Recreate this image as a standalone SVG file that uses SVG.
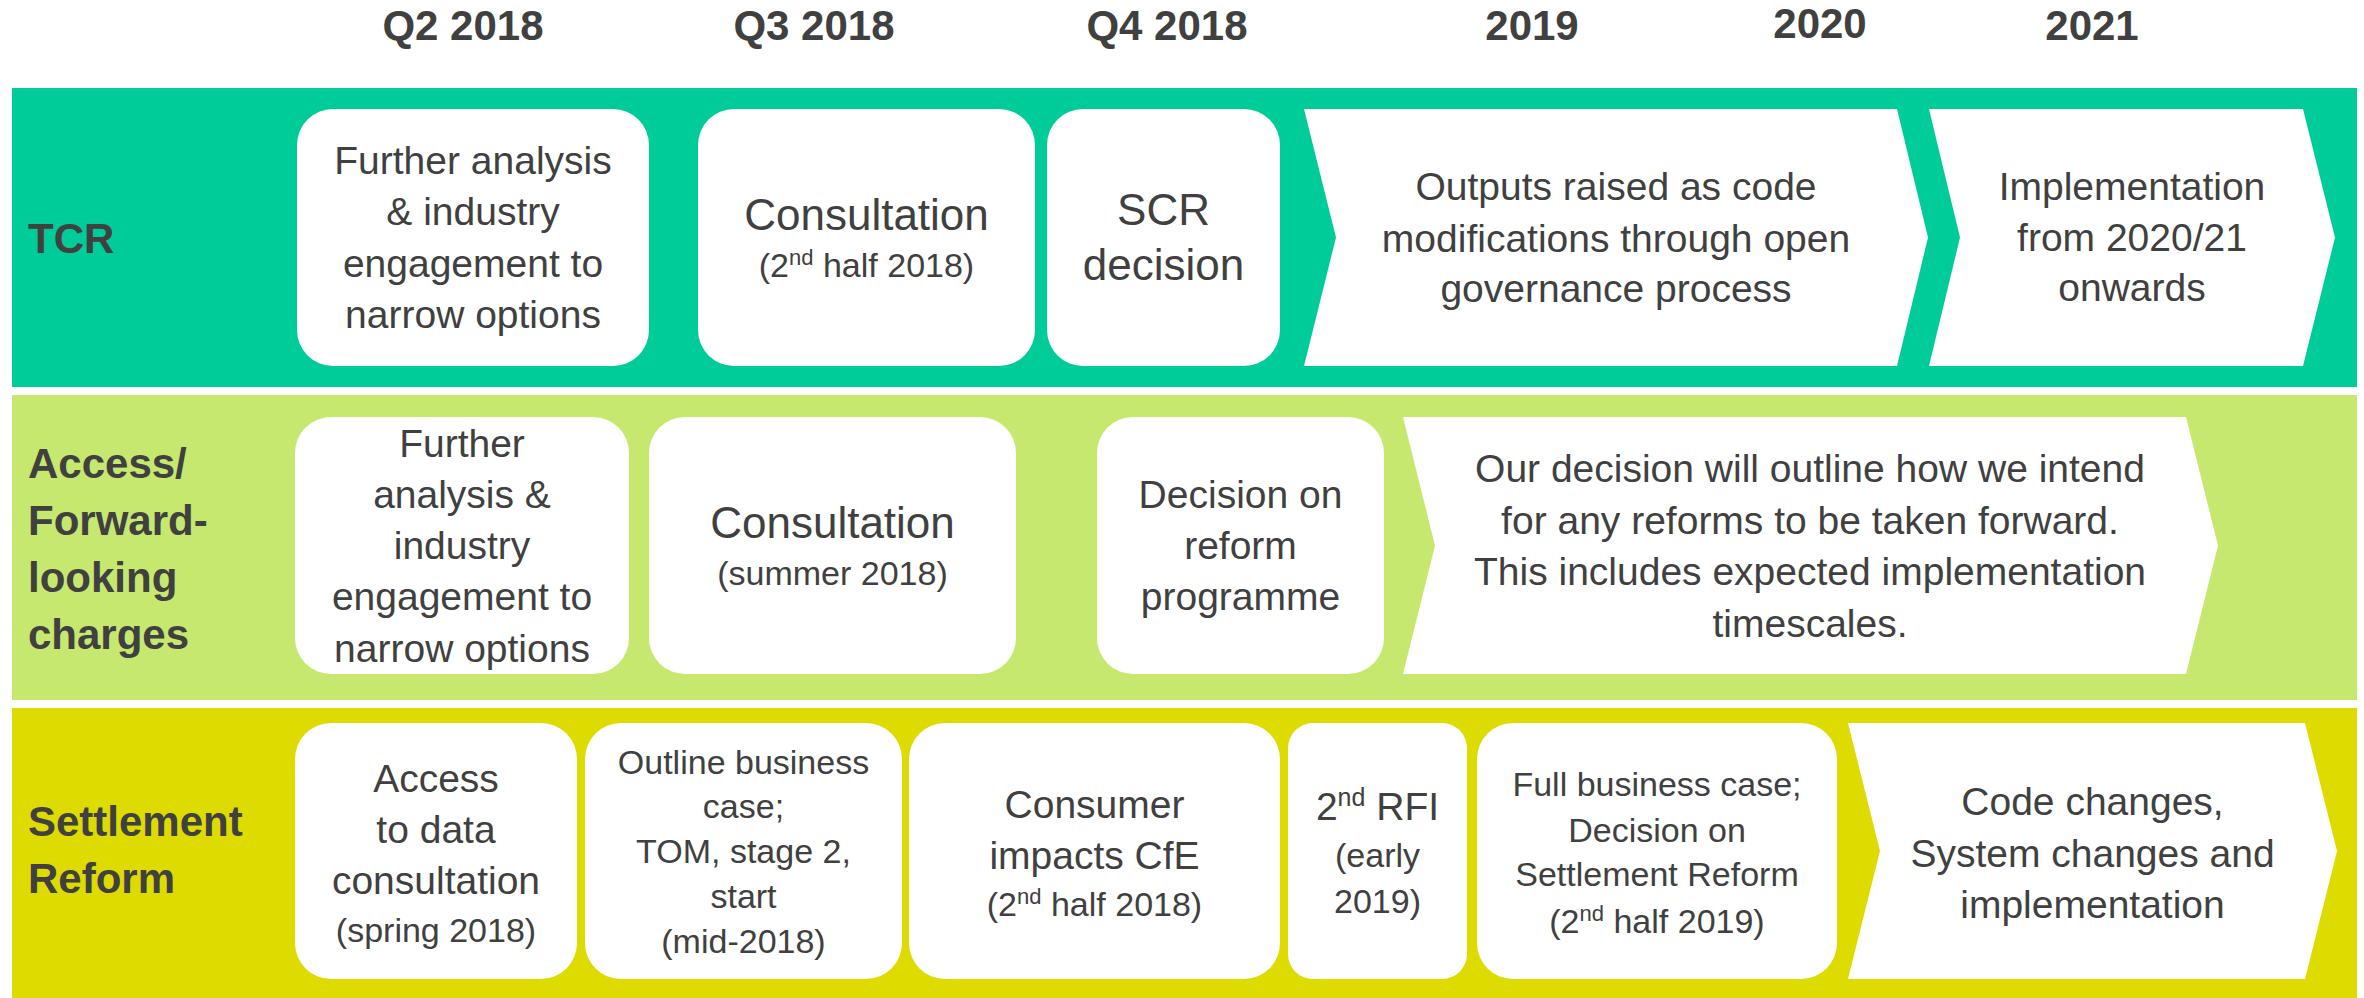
<svg xmlns="http://www.w3.org/2000/svg" width="2364" height="998" viewBox="0 0 2364 998">
<style>
  text { font-family: "Liberation Sans", Arial, sans-serif; fill: #404040; text-anchor: middle; }
  .hdr { font-size: 42px; font-weight: bold; }
  .lbl { font-size: 42px; font-weight: bold; text-anchor: start; }
  .b { font-size: 39px; }
  .l { font-size: 44px; }
  .s { font-size: 34px; }
  .box { fill: #ffffff; }
</style>
<rect width="2364" height="998" fill="#ffffff"/>
<g id="headers">
  <text class="hdr" x="463" y="40">Q2 2018</text>
  <text class="hdr" x="814" y="40">Q3 2018</text>
  <text class="hdr" x="1167" y="40">Q4 2018</text>
  <text class="hdr" x="1532" y="40">2019</text>
  <text class="hdr" x="1820" y="38">2020</text>
  <text class="hdr" x="2092" y="40">2021</text>
</g>
<g id="bands">
  <rect x="12" y="88" width="2345" height="299" fill="#00CC99"/>
  <rect x="12" y="395" width="2345" height="305" fill="#C6E86E"/>
  <rect x="12" y="708" width="2345" height="290" fill="#DDDB00"/>
</g>
<g id="labels">
  <text class="lbl" x="28" y="253">TCR</text>
  <text class="lbl" x="28" y="478">Access/</text>
  <text class="lbl" x="28" y="535">Forward-</text>
  <text class="lbl" x="28" y="592">looking</text>
  <text class="lbl" x="28" y="649">charges</text>
  <text class="lbl" x="28" y="836">Settlement</text>
  <text class="lbl" x="28" y="893">Reform</text>
</g>
<g id="tcr1">
  <rect class="box" x="297" y="109" width="352" height="257" rx="36"/>
  <text class="b" x="473" y="174">Further analysis</text>
  <text class="b" x="473" y="225">&amp; industry</text>
  <text class="b" x="473" y="277">engagement to</text>
  <text class="b" x="473" y="328">narrow options</text>
</g>
<g id="tcr2">
  <rect class="box" x="698" y="109" width="337" height="257" rx="36"/>
  <text class="l" x="866.5" y="230">Consultation</text>
  <text class="s" x="866.5" y="277">(2<tspan font-size="22" dy="-12">nd</tspan><tspan dy="12"> half 2018)</tspan></text>
</g>
<g id="tcr3">
  <rect class="box" x="1047" y="109" width="233" height="257" rx="36"/>
  <text class="l" x="1163.5" y="225">SCR</text>
  <text class="l" x="1163.5" y="280">decision</text>
</g>
<g id="tcr4">
  <polygon class="box" points="1304,109 1897,109 1928,237.5 1897,366 1304,366 1336,237.5"/>
  <text class="b" x="1616" y="200">Outputs raised as code</text>
  <text class="b" x="1616" y="252">modifications through open</text>
  <text class="b" x="1616" y="302">governance process</text>
</g>
<g id="tcr5">
  <polygon class="box" points="1929,109 2303,109 2335,237.5 2303,366 1929,366 1960,237.5"/>
  <text class="b" x="2132" y="200">Implementation</text>
  <text class="b" x="2132" y="251">from 2020/21</text>
  <text class="b" x="2132" y="301">onwards</text>
</g>
<g id="acc1">
  <rect class="box" x="295" y="417" width="334" height="257" rx="36"/>
  <text class="b" x="462" y="457">Further</text>
  <text class="b" x="462" y="508">analysis &amp;</text>
  <text class="b" x="462" y="559">industry</text>
  <text class="b" x="462" y="610">engagement to</text>
  <text class="b" x="462" y="662">narrow options</text>
</g>
<g id="acc2">
  <rect class="box" x="649" y="417" width="367" height="257" rx="36"/>
  <text class="l" x="832.5" y="538">Consultation</text>
  <text class="s" x="832.5" y="585">(summer 2018)</text>
</g>
<g id="acc3">
  <rect class="box" x="1097" y="417" width="287" height="257" rx="36"/>
  <text class="b" x="1240.5" y="508">Decision on</text>
  <text class="b" x="1240.5" y="559">reform</text>
  <text class="b" x="1240.5" y="610">programme</text>
</g>
<g id="acc4">
  <polygon class="box" points="1403,417 2186,417 2218,545.5 2186,674 1403,674 1435,545.5"/>
  <text class="b" x="1810" y="482">Our decision will outline how we intend</text>
  <text class="b" x="1810" y="534">for any reforms to be taken forward.</text>
  <text class="b" x="1810" y="585">This includes expected implementation</text>
  <text class="b" x="1810" y="637">timescales.</text>
</g>
<g id="set1">
  <rect class="box" x="295" y="723" width="282" height="256" rx="36"/>
  <text class="b" x="436" y="792">Access</text>
  <text class="b" x="436" y="843">to data</text>
  <text class="b" x="436" y="894">consultation</text>
  <text class="s" x="436" y="942">(spring 2018)</text>
</g>
<g id="set2">
  <rect class="box" x="585" y="723" width="317" height="256" rx="36"/>
  <text class="s" x="743.5" y="774">Outline business</text>
  <text class="s" x="743.5" y="818">case;</text>
  <text class="s" x="743.5" y="863">TOM, stage 2,</text>
  <text class="s" x="743.5" y="908">start</text>
  <text class="s" x="743.5" y="953">(mid-2018)</text>
</g>
<g id="set3">
  <rect class="box" x="909" y="723" width="371" height="256" rx="36"/>
  <text class="b" x="1094.5" y="818">Consumer</text>
  <text class="b" x="1094.5" y="869">impacts CfE</text>
  <text class="s" x="1094.5" y="916">(2<tspan font-size="22" dy="-12">nd</tspan><tspan dy="12"> half 2018)</tspan></text>
</g>
<g id="set4">
  <rect class="box" x="1288" y="723" width="179" height="256" rx="25"/>
  <text class="b" x="1377.5" y="820">2<tspan font-size="25" dy="-14">nd</tspan><tspan dy="14"> RFI</tspan></text>
  <text class="s" x="1377.5" y="867">(early</text>
  <text class="s" x="1377.5" y="913">2019)</text>
</g>
<g id="set5">
  <rect class="box" x="1477" y="723" width="360" height="256" rx="36"/>
  <text class="s" x="1657" y="796">Full business case;</text>
  <text class="s" x="1657" y="842">Decision on</text>
  <text class="s" x="1657" y="886">Settlement Reform</text>
  <text class="s" x="1657" y="933">(2<tspan font-size="22" dy="-12">nd</tspan><tspan dy="12"> half 2019)</tspan></text>
</g>
<g id="set6">
  <polygon class="box" points="1848,723 2305,723 2337,851 2305,979 1848,979 1880,851"/>
  <text class="b" x="2092.5" y="815">Code changes,</text>
  <text class="b" x="2092.5" y="867">System changes and</text>
  <text class="b" x="2092.5" y="918">implementation</text>
</g>
</svg>
